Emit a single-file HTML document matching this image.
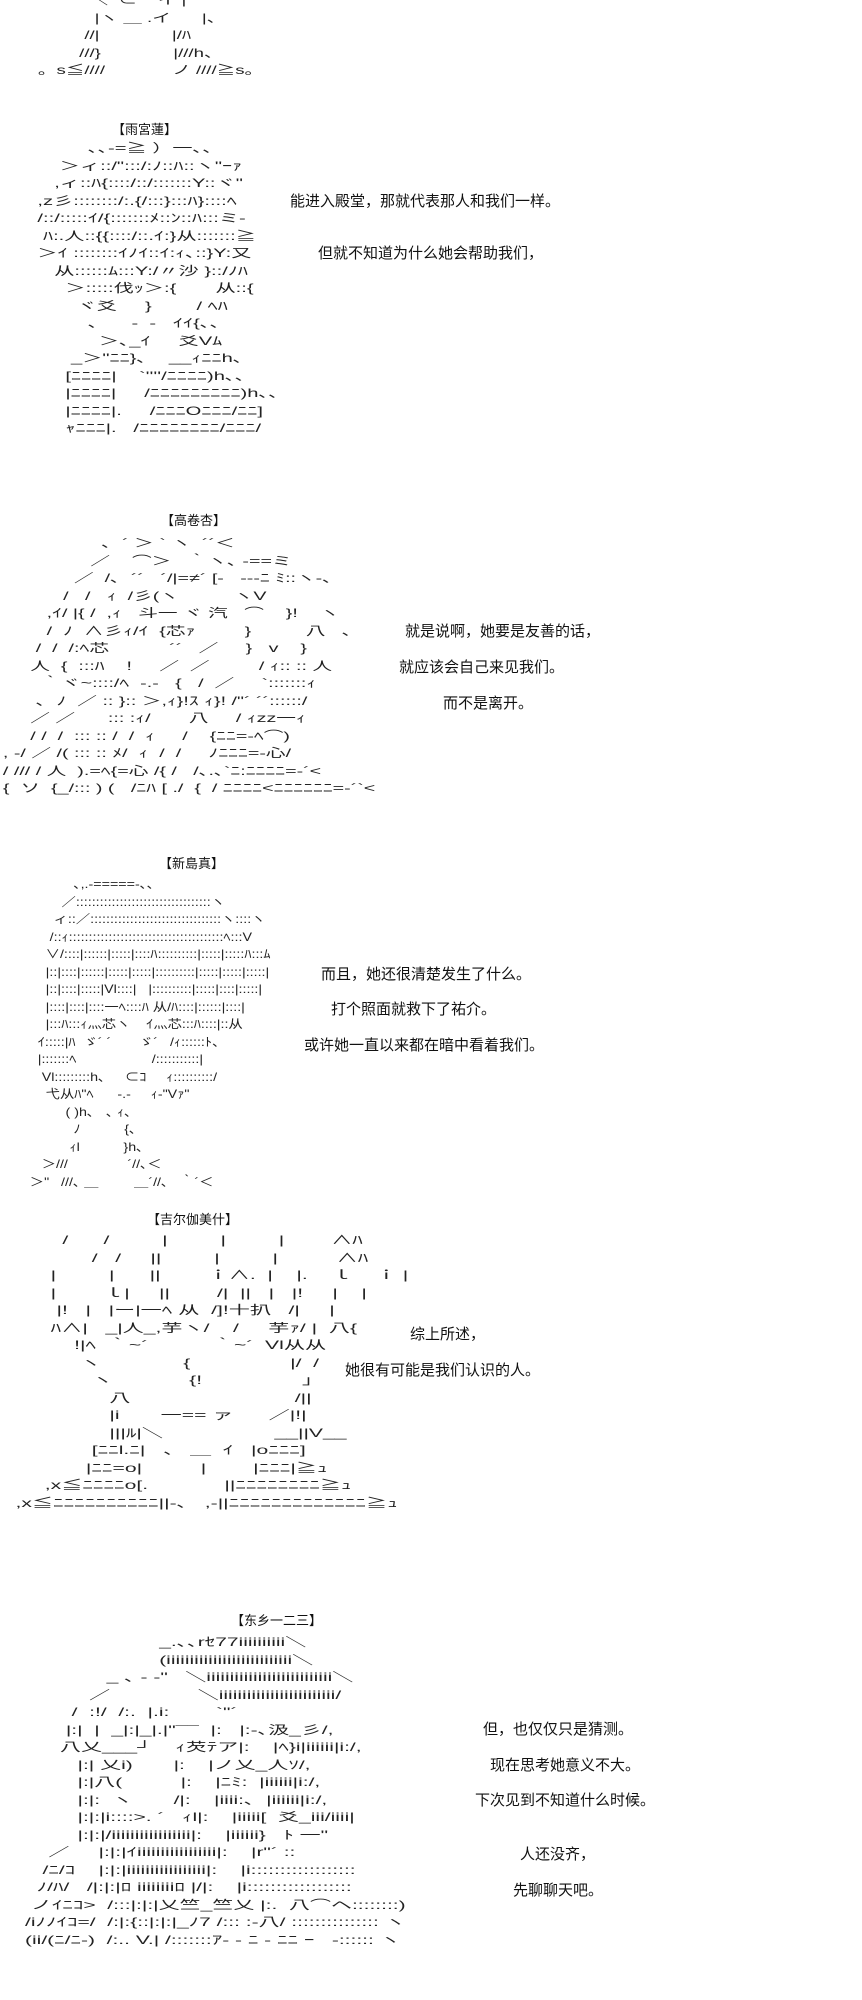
<!DOCTYPE html>
<html><head><meta charset="utf-8">
<style>
html,body{margin:0;padding:0;background:#fff;}
body{width:862px;height:2000px;position:relative;overflow:hidden;color:#111;}
pre{position:absolute;margin:0;font-family:"Liberation Sans","Noto Sans CJK JP",sans-serif;font-size:12px;line-height:17.5px;white-space:pre;color:#222;transform-origin:0 0;}
.h{position:absolute;font-family:"Liberation Sans","Noto Sans CJK SC",sans-serif;font-size:13px;color:#111;}
.t{position:absolute;font-family:"Liberation Sans","Noto Sans CJK SC",sans-serif;font-size:15px;color:#111;white-space:nowrap;}
</style></head><body>

<pre style="left:12px;top:-8px;transform:scaleX(1.55)">               ＼  ⊂    イ |
                |ヽ ＿ .イ      |、
              //|              |/ﾊ
             ///}              |///h、
     。s≦////             ノ ////≧s。</pre>

<div class="h" style="left:112px;top:119px">【雨宮蓮】</div>
<pre style="left:15px;top:140px;transform:scaleX(1.68)">             ､､-=≧ ）一､､
        ＞ィ::/":::/:ﾉ::ﾊ::ヽ"ｰｧ
       ,ィ::ﾊ{::::/::/:::::::Y::ヾ"
    ,z彡::::::::/:.{/:::}:::ﾊ}::::ﾍ
    /::/:::::ｲ/{:::::::ﾒ::ﾝ::ﾊ:::ミ-
     ﾊ:.人::{{::::/::.ｲ:}从:::::::≧
    ＞ｲ ::::::::ｲﾉｲ::ｲ:ｨ､::}Y:又
       从::::::ﾑ:::Y:/〃沙 }::/ﾉﾊ
         ＞:::::伐ｯ＞:{       从::{
           ヾ爻     }        / ﾍﾊ
             ､      -  -   ｲｲ{､､
               ＞､_ｲ     爻Vﾑ
          _＞"ﾆﾆ}､    __ｨﾆﾆh､
         [ﾆﾆﾆﾆ|    `''''/ﾆﾆﾆﾆ)h､､
         |ﾆﾆﾆﾆ|     /ﾆﾆﾆﾆﾆﾆﾆﾆﾆ)h､､
         |ﾆﾆﾆﾆ|.     /ﾆﾆﾆOﾆﾆﾆ/ﾆﾆ]
         ｬﾆﾆﾆ|.   /ﾆﾆﾆﾆﾆﾆﾆﾆ/ﾆﾆﾆ/</pre>
<div class="t" style="left:290px;top:190px">能进入殿堂，那就代表那人和我们一样。</div>
<div class="t" style="left:318px;top:242px">但就不知道为什么她会帮助我们，</div>

<div class="h" style="left:161px;top:510px">【高卷杏】</div>
<pre style="left:-8px;top:535px;transform:scaleX(1.64)">                    ､  ´ ＞ ` ヽ  ´´＜
                  ／    ⌒＞   ｀ヽ､ -==ミ
               ／  /､  ´´   ´/|=≠´ [-   ---ﾆ ﾐ::ヽ-､
             /   /   ｨ  /彡(ヽ          ヽV
          ,ｲ/ |{ /  ,ｨ   斗一 ヾ 汽   ⌒    }!    ヽ
          /  ﾉ  ∧彡ｨ/ｲ  {芯ｧ         }          八   ､
        /  /  /:ﾍ芯           ´´   ／     }   v    }
       人  {  :::ﾊ    !     ／  ／         / ｨ:: :: 人
         ｀ヾ~::::/ﾍ  -.-   {   /  ／     `:::::::ｨ
        ､  ﾉ  ／ :: }:: ＞,ｨ}!ｽ ｨ}! /"´ ´´::::::/
       ／ ／      ::: :ｨ/       八     / ｨzz一ｨ
       / /  /  ::: :: /  /  ｨ     /    {ﾆﾆ=-ﾍ⌒)
  , -/ ／ /( ::: :: ﾒ/  ｨ  /  /     ﾉﾆﾆﾆ=-心/
  / /// / 人  ).=ﾍ{=心 /{ /   /､.､`ﾆ:ﾆﾆﾆﾆ=-´<
  {  ソ  {_/::: ) (   /ﾆﾊ [ ./  {  / ﾆﾆﾆﾆ<ﾆﾆﾆﾆﾆﾆ=-´`<</pre>
<div class="t" style="left:405px;top:620px">就是说啊，她要是友善的话，</div>
<div class="t" style="left:399px;top:656px">就应该会自己来见我们。</div>
<div class="t" style="left:443px;top:692px">而不是离开。</div>

<div class="h" style="left:159px;top:853px">【新島真】</div>
<pre style="left:6px;top:876px;transform:scaleX(1.19)">                 ､,.-=====-､､
              ／::::::::::::::::::::::::::::::::::ヽ
            ィ::／:::::::::::::::::::::::::::::::::ヽ::::ヽ
           /::ｨ:::::::::::::::::::::::::::::::::::::::ﾍ:::V
          ∨/::::|::::::|:::::|::::ﾊ::::::::::|:::::|:::::ﾊ:::ﾑ
          |::|::::|::::::|:::::|:::::|::::::::::|:::::|:::::|:::::|
          |::|::::|:::::|Vl::::|   |::::::::::|:::::|::::|:::::|
          |::::|::::|::::一ﾍ::::ﾊ 从/ﾊ::::|::::::|::::|
          |:::ﾊ:::ｨ灬芯ヽ    ｲ灬芯:::ﾊ::::|::从
        ｲ:::::|ﾊ  ゞ´ ´       ゞ´   /ｨ::::::ﾄ、
        |:::::::ﾍ                   /:::::::::::|
         Vl:::::::::h､     ⊂ｺ     ｨ::::::::::/
          弋从ﾊ"ﾍ      -.-     ｨ-"Vｧ"
               ( )h､   ､ ｨ､
                 ﾉ           {､
                ｨl           }h､
         ＞///               ´//､＜
      ＞"   ///､ ＿         ＿´//､   ｀´＜</pre>
<div class="t" style="left:321px;top:963px">而且，她还很清楚发生了什么。</div>
<div class="t" style="left:331px;top:998px">打个照面就救下了祐介。</div>
<div class="t" style="left:304px;top:1034px">或许她一直以来都在暗中看着我们。</div>

<div class="h" style="left:147px;top:1209px">【吉尔伽美什】</div>
<pre style="left:-8px;top:1232px;transform:scaleX(1.76)">            /      /         |         |         |        ∧ﾊ
                 /   /     ||         |         |          ∧ﾊ
          |         |      ||        ｉ∧.  |    |.    ｌ    ｉ |
          |        ｌ|     ||        /|  ||   |   |!     |    |
           |!   |   |ー|一ﾍ 从  /]!十扒   /|     |
          ﾊ∧|   _|人_,芋ヽ/    /     芋ｧ/ |  八{
              !|ﾍ  ｀~´           ｀~´  Vl从从
               ヽ              {                 |/  /
                 ヽ             {!                 ｣
                    八                            /||
                    |i       一== ァ      ／|!|
                    |||ﾙ|＼                   __||V__
                 [ﾆﾆl.ﾆ|   、 ＿  ｲ   |oﾆﾆﾆ]
                |ﾆﾆ=o|          |        |ﾆﾆﾆ|≧ｭ
         ,x≦ﾆﾆﾆﾆo[.             ||ﾆﾆﾆﾆﾆﾆﾆﾆ≧ｭ
    ,x≦ﾆﾆﾆﾆﾆﾆﾆﾆﾆﾆ||-､   ,-||ﾆﾆﾆﾆﾆﾆﾆﾆﾆﾆﾆﾆﾆ≧ｭ</pre>
<div class="t" style="left:410px;top:1323px">综上所述，</div>
<div class="t" style="left:345px;top:1359px">她很有可能是我们认识的人。</div>

<div class="h" style="left:231px;top:1610px">【东乡一二三】</div>
<pre style="left:25px;top:1634px;transform:scaleX(1.75)">                       _.､､rｾ77iiiiiiiiii＼
                       (iiiiiiiiiiiiiiiiiiiiiiiiiii＼
              _ ､ - ‐"   ＼iiiiiiiiiiiiiiiiiiiiiiiiiii＼
           ／               ＼iiiiiiiiiiiiiiiiiiiiiiiii/
        /  :!/  /:.  |.i:        `"<iiii_/⌒T⌒)
        |    |i:  |.卜   ;   .,   {K/ﾍ)i:i＼
       |:|  |:  |i:  |:|＼    ,  |乂_/丁_)i:i/
       |:|  |:  |i:  |:|__  |:  | └ｨ iiiiii>´
       |:|  |  _|:|_|.|"¯¯  |:   |:-､汲_彡/,
      八乂___┘    ｨ芡ﾃア|:    |ﾍ}i|iiiiii|i:/,
         |:| 乂i)       |:    |ノ乂_人ｿ/,
         |:|八(          |:    |ﾆﾐ:  |iiiiii|i:/,
         |:|:  ヽ       /|:    |iiii:､  |iiiiii|i:/,
         |:|:|i::::>. ´   ｨl|:    |iiiii[  爻_iii/iiii|
         |:|:|/iiiiiiiiiiiiiiiii|:    |iiiiii}   ﾄ 一"
    ／     |:|:|ｲiiiiiiiiiiiiiiiii|:    |r"´ ::
   /ﾆ/ｺ    |:|:|iiiiiiiiiiiiiiiii|:    |i::::::::::::::::::
  ﾉ/ﾊ/   /|:|:|ﾛ iiiiiiiiﾛ |/|:    |i::::::::::::::::::
 ノｲﾆｺ>  /:::|:|:|乂竺_竺乂 |:.  八⌒ヘ::::::::)
/iﾉﾉｲｺ=/  /:|:{::|:|:|_ﾉ7 /::: :-八/ ::::::::::::::: ヽ
(ii/(ﾆ/ﾆ-)  /:.. V.| /:::::::ｱ- - ﾆ - ﾆﾆ ｰ   -:::::: ヽ</pre>
<div class="t" style="left:483px;top:1718px">但，也仅仅只是猜测。</div>
<div class="t" style="left:490px;top:1754px">现在思考她意义不大。</div>
<div class="t" style="left:475px;top:1789px">下次见到不知道什么时候。</div>
<div class="t" style="left:520px;top:1843px">人还没齐，</div>
<div class="t" style="left:513px;top:1879px">先聊聊天吧。</div>

</body></html>
